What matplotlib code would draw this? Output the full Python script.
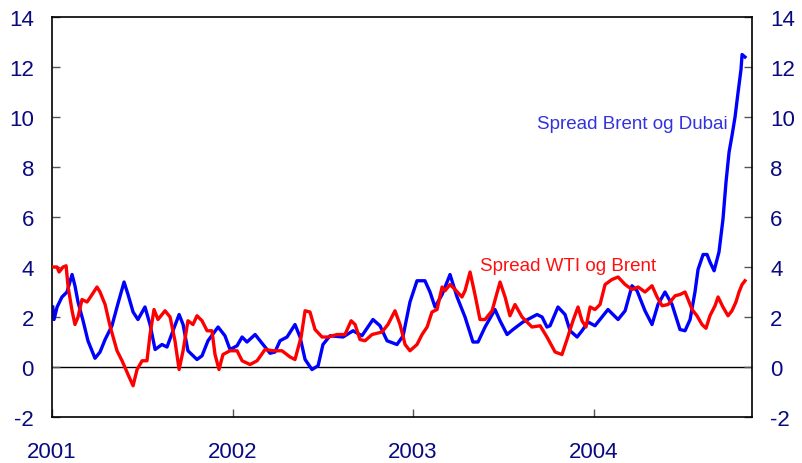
import numpy as np
from matplotlib import pyplot as plt

plt.rcParams['font.family'] = ['Liberation Sans', 'DejaVu Sans']
plt.rcParams['axes.unicode_minus'] = False

# dates as decimal years
brent_dubai_t = [2001.004, 2001.011, 2001.028, 2001.055, 2001.083, 2001.111, 2001.127, 2001.144,
                 2001.172, 2001.199, 2001.238, 2001.266, 2001.294, 2001.332, 2001.360, 2001.399,
                 2001.421, 2001.449, 2001.476, 2001.515, 2001.543, 2001.571, 2001.609, 2001.637,
                 2001.670, 2001.704, 2001.726, 2001.753, 2001.803, 2001.831, 2001.864, 2001.920,
                 2001.958, 2001.986, 2002.025, 2002.053, 2002.080, 2002.125, 2002.169, 2002.208,
                 2002.235, 2002.263, 2002.302, 2002.346, 2002.374, 2002.402, 2002.440, 2002.474,
                 2002.501, 2002.540, 2002.612, 2002.668, 2002.717, 2002.778, 2002.817, 2002.856,
                 2002.911, 2002.945, 2002.983, 2003.022, 2003.066, 2003.094, 2003.122, 2003.161,
                 2003.205, 2003.244, 2003.288, 2003.332, 2003.360, 2003.399, 2003.454, 2003.482,
                 2003.521, 2003.554, 2003.609, 2003.687, 2003.715, 2003.742, 2003.759, 2003.803,
                 2003.842, 2003.870, 2003.909, 2003.936, 2003.970, 2004.008, 2004.080, 2004.136,
                 2004.175, 2004.213, 2004.241, 2004.285, 2004.324, 2004.357, 2004.396, 2004.435,
                 2004.479, 2004.507, 2004.535, 2004.562, 2004.579, 2004.607, 2004.629, 2004.645,
                 2004.668, 2004.695, 2004.717, 2004.734, 2004.751, 2004.767, 2004.784, 2004.801,
                 2004.817, 2004.823, 2004.839]
brent_dubai = [2.4, 1.9, 2.4, 2.8, 3.0, 3.7, 3.25, 2.6,
               1.85, 1.05, 0.35, 0.6, 1.1, 1.65, 2.4, 3.4,
               2.9, 2.2, 1.9, 2.4, 1.7, 0.7, 0.9, 0.8,
               1.45, 2.1, 1.7, 0.65, 0.3, 0.45, 1.05, 1.6,
               1.25, 0.7, 0.85, 1.2, 1.0, 1.3, 0.9, 0.55,
               0.6, 1.05, 1.2, 1.7, 1.2, 0.3, -0.1, 0.05,
               0.9, 1.25, 1.2, 1.45, 1.25, 1.9, 1.65, 1.05,
               0.9, 1.25, 2.6, 3.45, 3.45, 3.0, 2.4, 2.9,
               3.7, 2.8, 2.0, 1.0, 1.0, 1.6, 2.3, 1.85,
               1.3, 1.5, 1.8, 2.1, 2.0, 1.6, 1.65, 2.4,
               2.1, 1.45, 1.2, 1.45, 1.8, 1.65, 2.3, 1.9,
               2.25, 3.25, 3.05, 2.25, 1.7, 2.5, 3.0, 2.5,
               1.5, 1.45, 1.9, 3.0, 3.9, 4.5, 4.5, 4.2,
               3.85, 4.6, 5.9, 7.4, 8.6, 9.25, 10.0, 11.0,
               11.9, 12.5, 12.4]

wti_brent_t = [2001.006, 2001.028, 2001.039, 2001.061, 2001.078, 2001.089, 2001.111, 2001.127,
               2001.144, 2001.166, 2001.194, 2001.222, 2001.249, 2001.266, 2001.294, 2001.321,
               2001.360, 2001.388, 2001.421, 2001.449, 2001.471, 2001.499, 2001.526, 2001.543,
               2001.565, 2001.587, 2001.626, 2001.654, 2001.681, 2001.704, 2001.726, 2001.753,
               2001.781, 2001.803, 2001.831, 2001.859, 2001.886, 2001.903, 2001.925, 2001.947,
               2001.986, 2002.025, 2002.053, 2002.097, 2002.136, 2002.180, 2002.224, 2002.274,
               2002.319, 2002.346, 2002.380, 2002.402, 2002.429, 2002.457, 2002.496, 2002.529,
               2002.579, 2002.623, 2002.657, 2002.679, 2002.706, 2002.734, 2002.773, 2002.828,
               2002.861, 2002.900, 2002.928, 2002.956, 2002.983, 2003.022, 2003.050, 2003.078,
               2003.105, 2003.133, 2003.161, 2003.177, 2003.205, 2003.233, 2003.271, 2003.288,
               2003.316, 2003.343, 2003.371, 2003.399, 2003.438, 2003.482, 2003.510, 2003.537,
               2003.565, 2003.604, 2003.659, 2003.704, 2003.742, 2003.787, 2003.825, 2003.853,
               2003.886, 2003.914, 2003.936, 2003.958, 2003.981, 2004.008, 2004.036, 2004.064,
               2004.102, 2004.136, 2004.175, 2004.213, 2004.247, 2004.285, 2004.324, 2004.352,
               2004.380, 2004.413, 2004.452, 2004.479, 2004.507, 2004.524, 2004.546, 2004.573,
               2004.601, 2004.623, 2004.645, 2004.673, 2004.690, 2004.717, 2004.745, 2004.767,
               2004.789, 2004.806, 2004.823, 2004.839]
wti_brent = [4.0, 4.0, 3.8, 4.0, 4.05, 3.2, 2.25, 1.7,
             2.0, 2.7, 2.6, 2.9, 3.2, 3.0, 2.5, 1.65,
             0.65, 0.25, -0.3, -0.75, -0.1, 0.25, 0.25, 1.3,
             2.3, 1.9, 2.25, 2.0, 1.05, -0.1, 0.65, 1.85,
             1.7, 2.05, 1.85, 1.45, 1.45, 0.5, -0.1, 0.5,
             0.65, 0.65, 0.25, 0.1, 0.25, 0.7, 0.65, 0.65,
             0.4, 0.3, 1.2, 2.25, 2.2, 1.5, 1.2, 1.2,
             1.3, 1.3, 1.85, 1.7, 1.1, 1.05, 1.3, 1.4,
             1.7, 2.25, 1.7, 0.9, 0.65, 0.9, 1.3, 1.6,
             2.2, 2.3, 3.2, 3.05, 3.3, 3.1, 2.8, 3.05,
             3.8, 2.9, 1.9, 1.9, 2.25, 3.4, 2.8, 2.05,
             2.5, 2.0, 1.6, 1.65, 1.2, 0.6, 0.5, 1.1,
             1.85, 2.4, 1.85, 1.6, 2.4, 2.3, 2.5, 3.3,
             3.5, 3.6, 3.3, 3.1, 3.2, 3.0, 3.25, 2.8,
             2.45, 2.5, 2.85, 2.9, 3.0, 2.7, 2.3, 2.05,
             1.7, 1.55, 2.05, 2.45, 2.8, 2.4, 2.05, 2.25,
             2.6, 3.0, 3.3, 3.45]

years = [2001, 2002, 2003, 2004]
yticks = [-2, 0, 2, 4, 6, 8, 10, 12, 14]

navy = '#0a0a80'

fig = plt.figure(figsize=(8.03, 4.64), dpi=100)
ax = fig.add_axes([0.0648, 0.0991, 0.8717, 0.8621])

ax.axhline(0, color='black', lw=1.0, zorder=1)
ax.plot(wti_brent_t, wti_brent, color='#ff0000', lw=2.4, zorder=3)
ax.plot(brent_dubai_t, brent_dubai, color='#0000ff', lw=2.4, zorder=2)

ax.set_xlim(2001.0, 2004.878)
ax.set_ylim(-2, 14)
ax.set_xticks(years)
ax.set_xticklabels([str(y) for y in years])
ax.set_yticks(yticks)

ax.tick_params(axis='x', direction='in', length=6, width=1, color='#555555',
               labelsize=16, labelcolor=navy, pad=17)
ax.tick_params(axis='y', direction='in', length=6, width=1, color='#555555',
               labelsize=16, labelcolor=navy, pad=13, labelright=True, right=True)
for s in ax.spines.values():
    s.set_linewidth(1.2)

ax.text(2003.687, 9.75, 'Spread Brent og Dubai', color='#3333dd', fontsize=13.5,
        va='center', ha='left')
ax.text(2003.371, 4.05, 'Spread WTI og Brent', color='#ff1010', fontsize=13.5,
        va='center', ha='left')

fig.savefig('out.png', dpi=100)
